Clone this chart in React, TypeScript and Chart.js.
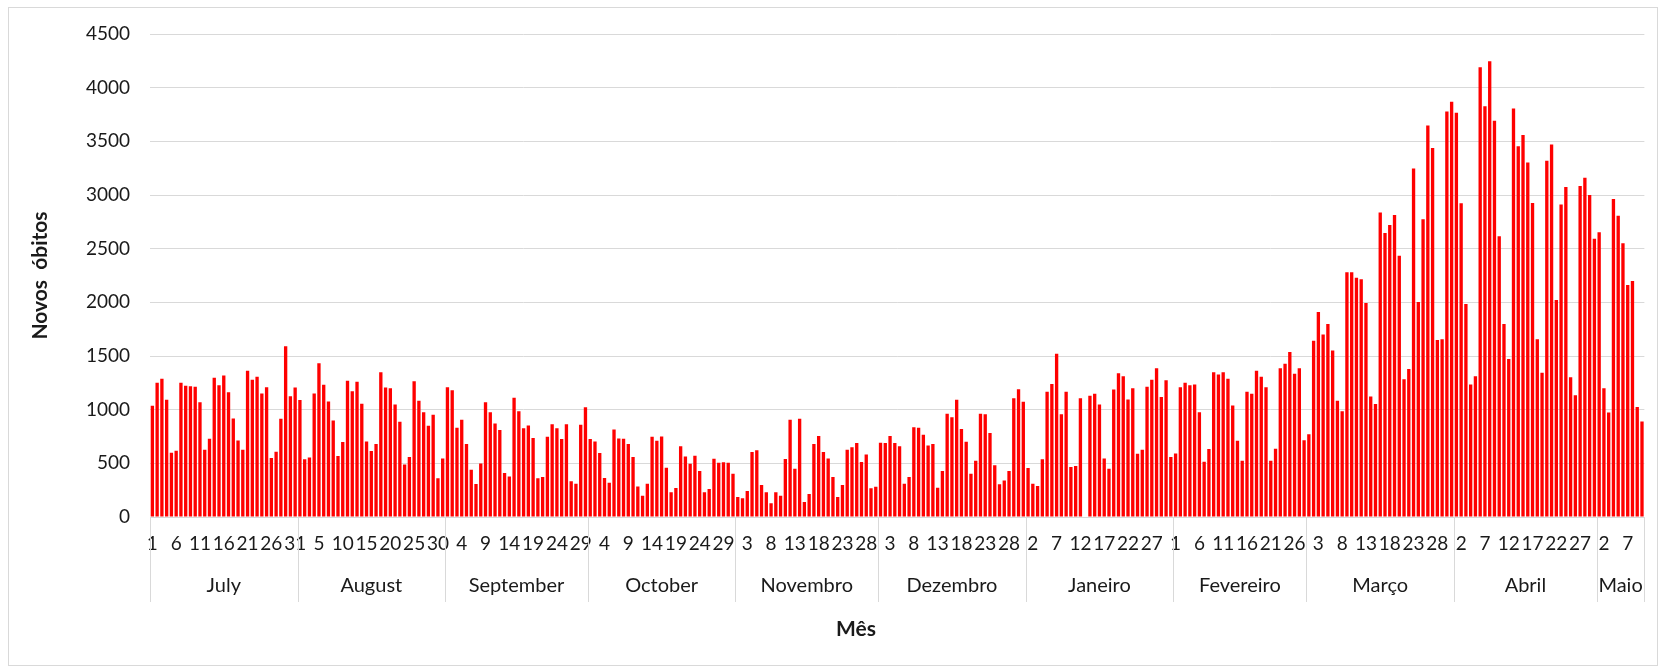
import React, { useEffect, useRef } from 'react';
import { Chart, registerables } from 'chart.js';

Chart.register(...registerables);

const monthNames = ['July', 'August', 'September', 'October', 'Novembro', 'Dezembro', 'Janeiro', 'Fevereiro', 'Março', 'Abril', 'Maio'];

const jul = [1036, 1250, 1287, 1092, 599, 617, 1250, 1222, 1219, 1213, 1070, 627, 729, 1297, 1228, 1318, 1163, 918, 713, 627, 1362, 1278, 1306, 1151, 1210, 549, 608, 915, 1591, 1126, 1207];
const aug = [1089, 537, 555, 1151, 1433, 1231, 1076, 900, 568, 698, 1269, 1172, 1259, 1055, 704, 614, 679, 1349, 1207, 1200, 1048, 887, 490, 558, 1265, 1082, 977, 850, 952, 360, 546];
const sep = [1210, 1182, 831, 906, 679, 440, 307, 499, 1070, 977, 872, 810, 409, 378, 1110, 986, 828, 853, 735, 360, 372, 747, 865, 828, 726, 865, 332, 310, 859, 1023];
const oct = [726, 704, 596, 363, 319, 816, 732, 729, 679, 558, 285, 198, 310, 747, 710, 750, 459, 230, 270, 660, 564, 496, 571, 428, 230, 260, 543, 506, 509, 506, 403];
const nov = [186, 174, 242, 605, 623, 298, 230, 127, 230, 198, 540, 906, 450, 915, 140, 214, 679, 754, 605, 546, 372, 186, 298, 627, 651, 689, 512, 583, 267, 282];
const dec = [692, 689, 754, 689, 660, 310, 372, 837, 831, 766, 667, 679, 273, 428, 962, 930, 1092, 819, 701, 403, 524, 962, 958, 782, 481, 304, 341, 428, 1107, 1191, 1073];
const jan = [456, 310, 288, 537, 1166, 1238, 1520, 958, 1166, 465, 475, 1107, 0, 1129, 1148, 1048, 546, 450, 1188, 1340, 1312, 1095, 1200, 589, 627, 1213, 1278, 1386, 1117, 1275, 558];
const feb = [592, 1210, 1250, 1228, 1235, 977, 515, 633, 1349, 1328, 1349, 1287, 1039, 710, 524, 1166, 1148, 1362, 1306, 1210, 524, 636, 1386, 1427, 1538, 1334, 1386, 716];
const mar = [772, 1641, 1911, 1700, 1799, 1551, 1082, 986, 2280, 2280, 2230, 2215, 1994, 1123, 1052, 2838, 2646, 2720, 2813, 2435, 1284, 1380, 3248, 2004, 2773, 3648, 3437, 1650, 1656, 3778, 3868];
const apr = [3766, 2922, 1985, 1234, 1312, 4191, 3828, 4247, 3691, 2615, 1799, 1473, 3806, 3455, 3558, 3303, 2925, 1656, 1343, 3319, 3471, 2022, 2912, 3074, 1303, 1135, 3083, 3161, 2999, 2593];
const may = [2652, 1200, 974, 2962, 2807, 2550, 2162, 2199, 1024, 890];

const months = [jul, aug, sep, oct, nov, dec, jan, feb, mar, apr, may];
const dayLabels: number[] = [];
months.forEach((m) => m.forEach((_, i) => dayLabels.push(i + 1)));
const values: number[] = ([] as number[]).concat(...months);

const yTitle = 'Novos  óbitos';
const xTitle = 'Mês';

const TEXT = '#1a1a1a';
const GRID = '#d9d9d9';

const monthAxisPlugin = {
  id: 'monthAxis',
  afterDraw(chart: any) {
    const { ctx, chartArea, scales } = chart;
    const xs = scales.x;
    const n = dayLabels.length;
    const w = (xs.right - xs.left) / n;
    const edges = [0];
    let acc = 0;
    months.forEach((m) => {
      acc += m.length;
      edges.push(acc);
    });
    ctx.save();
    ctx.strokeStyle = GRID;
    ctx.lineWidth = 1;
    edges.forEach((e) => {
      const px = Math.round(xs.left + e * w) + 0.5;
      ctx.beginPath();
      ctx.moveTo(px, chartArea.bottom);
      ctx.lineTo(px, chartArea.bottom + 85);
      ctx.stroke();
    });
    ctx.fillStyle = TEXT;
    ctx.textAlign = 'center';
    ctx.textBaseline = 'middle';
    ctx.font = '20px Lato';
    monthNames.forEach((name, i) => {
      const cx = xs.left + ((edges[i] + edges[i + 1]) / 2) * w;
      ctx.fillText(name, cx, chartArea.bottom + 69);
    });
    ctx.font = 'bold 21px Lato';
    ctx.fillText(xTitle, 847, chartArea.bottom + 112);
    ctx.translate(31, (chartArea.top + chartArea.bottom) / 2);
    ctx.rotate(-Math.PI / 2);
    ctx.fillText(yTitle, 0, 0);
    ctx.restore();
  },
};

export default function App() {
  const ref = useRef<HTMLCanvasElement | null>(null);
  useEffect(() => {
    if (!ref.current) return;
    const chart = new Chart(ref.current, {
      type: 'bar',
      data: {
        labels: dayLabels.map(String),
        datasets: [
          {
            data: values,
            backgroundColor: '#ff0000',
            borderWidth: 0,
            barPercentage: 0.7,
            categoryPercentage: 1,
          },
        ],
      },
      options: {
        animation: false,
        responsive: true,
        maintainAspectRatio: false,
        layout: { padding: { left: 0, right: 4, top: 26, bottom: 0 } },
        plugins: { legend: { display: false }, tooltip: { enabled: false } },
        scales: {
          x: {
            offset: true,
            grid: { display: false, drawTicks: false },
            border: { display: true, color: GRID, width: 1 },
            ticks: {
              autoSkip: false,
              maxRotation: 0,
              minRotation: 0,
              padding: 15,
              color: TEXT,
              font: { family: 'Lato', size: 19 },
              callback: (_v: any, i: number) => (i % 5 === 0 ? String(dayLabels[i]) : ''),
            },
            afterFit: (s: any) => {
              s.height = 148;
            },
          },
          y: {
            min: 0,
            max: 4500,
            grid: { color: GRID, lineWidth: 1, drawTicks: false },
            border: { display: false },
            ticks: {
              stepSize: 500,
              padding: 20,
              color: TEXT,
              font: { family: 'Lato', size: 19 },
              callback: (v: any) => String(v),
            },
            afterFit: (s: any) => {
              s.width = 141;
              s.paddingTop = 0;
              s.paddingBottom = 0;
            },
          },
        },
      },
      plugins: [monthAxisPlugin],
    });
    return () => chart.destroy();
  }, []);
  return (
    <div
      style={{
        position: 'absolute',
        left: 8,
        top: 7,
        width: 1650,
        height: 659,
        border: '1px solid #d9d9d9',
        boxSizing: 'border-box',
        background: '#fff',
      }}
    >
      <div style={{ position: 'relative', width: '100%', height: '100%' }}>
        <canvas ref={ref} />
      </div>
    </div>
  );
}
